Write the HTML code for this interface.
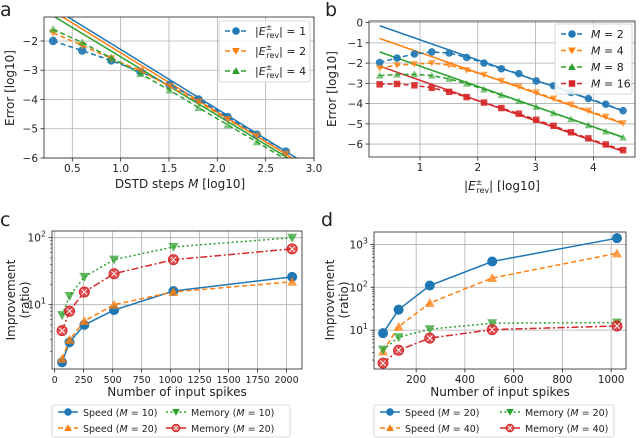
<!DOCTYPE html>
<html><head><meta charset="utf-8"><style>
body{margin:0;background:#fff;}
svg{display:block;font-family:"DejaVu Sans","Liberation Sans",sans-serif;}
</style></head><body>
<svg id="fig" width="640" height="438" viewBox="0 0 640 438"></svg>
<script>
// ---------- DATA ----------
const aX = [0.301,0.602,0.903,1.204,1.505,1.806,2.107,2.408,2.709];
const aE1 = [-2.0,-2.33,-2.67,-3.05,-3.5,-4.0,-4.6,-5.2,-5.78];
const aE2 = [-1.72,-2.15,-2.6,-3.02,-3.55,-4.08,-4.68,-5.25,-5.87];
const aE4 = [-1.6,-2.05,-2.58,-3.12,-3.68,-4.28,-4.87,-5.45,-6.05];
const aFitIntercept = [-0.25,-0.37,-0.54];
const aFitSlope = [-2.04,-2.03,-2.0];
const aXTicks = [0.5,1.0,1.5,2.0,2.5,3.0];
const aYTicks = [-2,-3,-4,-5,-6];

const bX = [0.301,0.602,0.903,1.204,1.505,1.806,2.107,2.408,2.709,3.010,3.311,3.612,3.913,4.214,4.515];
const bM2 = [-1.97,-1.75,-1.55,-1.45,-1.5,-1.72,-2.0,-2.28,-2.52,-2.88,-3.12,-3.45,-3.75,-4.03,-4.35];
const bM4 = [-2.25,-2.1,-2.05,-2.0,-2.1,-2.35,-2.58,-2.87,-3.15,-3.45,-3.75,-4.05,-4.35,-4.65,-4.97];
const bM8 = [-2.62,-2.57,-2.55,-2.62,-2.78,-3.02,-3.3,-3.58,-3.88,-4.17,-4.47,-4.77,-5.07,-5.38,-5.68];
const bM16 = [-3.05,-3.03,-3.1,-3.22,-3.42,-3.68,-3.95,-4.22,-4.5,-4.8,-5.1,-5.42,-5.72,-6.02,-6.3];
const bFitIntercept = [0.15,-0.48,-1.15,-1.85];
const bFitSlope = [-1,-1,-1,-1];
const bXTicks = [1,2,3,4];
const bYTicks = [0,-1,-2,-3,-4,-5,-6];

const cX = [64,128,256,512,1024,2048];
const cSpeed10 = [1.38,2.75,5.0,8.3,16,26];
const cSpeed20 = [1.55,3.0,5.7,10,15.5,22];
const cMem10 = [7,13.5,26,47,73,100];
const cMem20 = [4.1,8,15.5,29,47,68];
const cXTicks = [0,250,500,750,1000,1250,1500,1750,2000];

const dX = [64,128,256,512,1024];
const dSpeed20 = [8.5,30,110,400,1400];
const dSpeed40 = [3.2,12,43,165,620];
const dMem20 = [3.5,6.8,10.5,14.5,15];
const dMem40 = [1.7,3.4,6.5,10.3,12.5];
const dXTicks = [200,400,600,800,1000];

// ---------- HELPERS ----------
const NS="http://www.w3.org/2000/svg";
const svg=document.getElementById('fig');
const C={blue:'#1f77b4',orange:'#ff7f0e',green:'#2ca02c',red:'#d62728'};
function mk(tag,attrs,parent){const e=document.createElementNS(NS,tag);for(const k in attrs)e.setAttribute(k,attrs[k]);(parent||svg).appendChild(e);return e;}
function txt(x,y,s,attrs,parent){const e=mk('text',Object.assign({x:x,y:y,'font-size':10.5,fill:'#222'},attrs||{}),parent);e.innerHTML=s;return e;}
function marker(g,type,x,y,col,r){
  let e;
  if(type==='o'){e=mk('circle',{cx:x,cy:y,r:r,fill:col},g);}
  else if(type==='v'){e=mk('polygon',{points:`${x-r},${y-r*0.8} ${x+r},${y-r*0.8} ${x},${y+r}`,fill:col},g);}
  else if(type==='^'){e=mk('polygon',{points:`${x-r},${y+r*0.8} ${x+r},${y+r*0.8} ${x},${y-r}`,fill:col},g);}
  else if(type==='s'){e=mk('rect',{x:x-r*0.85,y:y-r*0.85,width:r*1.7,height:r*1.7,fill:col},g);}
  else if(type==='x'){e=mk('circle',{cx:x,cy:y,r:r,fill:col,'fill-opacity':0.8,stroke:col,'stroke-width':1},g);
    mk('path',{d:`M${x-r*0.55},${y-r*0.55}L${x+r*0.55},${y+r*0.55}M${x+r*0.55},${y-r*0.55}L${x-r*0.55},${y+r*0.55}`,stroke:'#fff','stroke-width':0.9},g);}
  return e;
}
function axesBox(L,T,R,B,name){
  const g=mk('g',{});
  
  
  return g;
}
let clipId=0;
function panel(opt){
  const {L,T,R,B}=opt;
  const g=axesBox(L,T,R,B,opt.name);
  const sx=v=>L+(v-opt.x0)/(opt.x1-opt.x0)*(R-L);
  const sy=opt.log?(v=>B-(Math.log10(v)-opt.y0)/(opt.y1-opt.y0)*(B-T)):(v=>B-(v-opt.y0)/(opt.y1-opt.y0)*(B-T));
  const cid='clip'+(clipId++);
  const cp=mk('clipPath',{id:cid},g);mk('rect',{x:L,y:T,width:R-L,height:B-T},cp);
  const xfs=opt.xfs||10.5;
  opt.xTicks.forEach(t=>{const x=sx(t);mk('line',{x1:x,x2:x,y1:T,y2:B,stroke:'#b0b0b0','stroke-width':0.8},g);
    mk('line',{x1:x,x2:x,y1:B,y2:B+3.5,stroke:'#222','stroke-width':0.8},g);
    const lt=txt(x,B+14,opt.xfmt?opt.xfmt(t):String(t),{'text-anchor':'middle','font-size':xfs},g);
    
    });
  opt.yTicks.forEach(t=>{const y=opt.log?sy(Math.pow(10,t)):sy(t);mk('line',{x1:L,x2:R,y1:y,y2:y,stroke:'#b0b0b0','stroke-width':0.8},g);
    mk('line',{x1:L-3.5,x2:L,y1:y,y2:y,stroke:'#222','stroke-width':0.8},g);
    let s=opt.log?`10<tspan dy="-5" font-size="8">${t}</tspan>`:(t<0?'\u2212'+(-t):String(t));
    const lt=txt(L-6,y+4,s,{'text-anchor':'end'},g);
    
    });
  if(opt.minor){opt.minor.forEach(v=>{const y=sy(v);if(y>T&&y<B)mk('line',{x1:L-2,x2:L,y1:y,y2:y,stroke:'#222','stroke-width':0.6},g);});}
  const plot=mk('g',{'clip-path':`url(#${cid})`},g);
  mk('rect',{x:L,y:T,width:R-L,height:B-T,fill:'none',stroke:'#222','stroke-width':0.8},g);
  return {g,plot,sx,sy};
}
function series(p,xs,ys,col,mtype,dash,r,name,alpha){
  const sg=mk('g',{},p.plot);
  
  
  const d=xs.map((x,i)=>(i?'L':'M')+p.sx(x).toFixed(1)+','+p.sy(ys[i]).toFixed(1)).join('');
  mk('path',{d:d,fill:'none',stroke:col,'stroke-width':1.5,'stroke-dasharray':dash||'none'},sg);
  xs.forEach((x,i)=>{const m=marker(sg,mtype,p.sx(x),p.sy(ys[i]),col,r);if(alpha)m.setAttribute('fill-opacity',alpha);});
}
function fitLine(p,x0,x1,b,m,col,name){
  const l=mk('line',{x1:p.sx(x0),y1:p.sy(b+m*x0),x2:p.sx(x1),y2:p.sy(b+m*x1),stroke:col,'stroke-width':1.5},p.plot);
  
  
}
function legend(x,y,w,h,entries,cols,name,o){
  o=o||{};
  const top=o.top||10, lw=o.lw||22, tx=o.tx||30;
  const g=mk('g',{});
  
  
  mk('rect',{x:x,y:y,width:w,height:h,rx:2,fill:'#fff','fill-opacity':0.85,stroke:'#ccc','stroke-width':0.8},g);
  entries.forEach((e,i)=>{
    const col=i%cols,row=Math.floor(i/cols);
    const ex=x+6+col*e.colW, ey=y+top+row*e.rowH;
    const eg=mk('g',{},g);
    
    
    mk('line',{x1:ex,x2:ex+lw,y1:ey,y2:ey,stroke:e.col,'stroke-width':1.5,'stroke-dasharray':e.dash||'none'},eg);
    marker(eg,e.m,ex+lw/2,ey,e.col,e.r||3.8);
    txt(ex+tx,ey+4,e.label,{'font-size':e.fs||11},eg);
  });
}
function axisTitleY(x,y,lines,name){
  const t=mk('text',{transform:`translate(${x},${y}) rotate(-90)`,'text-anchor':'middle','font-size':12,fill:'#222'});
  
  
  if(lines.length===1)t.innerHTML=lines[0];
  else t.innerHTML=`<tspan x="0" dy="-7">${lines[0]}</tspan><tspan x="0" dy="14">${lines[1]}</tspan>`;
}
function axisTitleX(x,y,s,name){const t=txt(x,y,s,{'text-anchor':'middle','font-size':12});
  
  }
function panelLabel(x,y,s){const t=txt(x,y,s,{'font-size':19});
  
  }
const Erev='|<tspan font-style="italic">E</tspan><tspan dy="-5" font-size="8">±</tspan><tspan dy="8" dx="-6" font-size="8">rev</tspan><tspan dy="-3">|</tspan>';

// ---------- PANEL A ----------
const pa=panel({name:'panel-a',L:44,T:17,R:314,B:158,x0:0.207,x1:3.0,y0:-6,y1:-1.18,xTicks:aXTicks,yTicks:aYTicks,xfmt:t=>t.toFixed(1)});
[C.blue,C.orange,C.green].forEach((c,i)=>fitLine(pa,0.2,3.0,aFitIntercept[i],aFitSlope[i],c,'fit-line-a-'+i));
series(pa,aX,aE1,C.blue,'o','5,3',4.2,'series-e1',0.9);
series(pa,aX,aE2,C.orange,'v','5,3',4.2,'series-e2',0.7);
series(pa,aX,aE4,C.green,'^','5,3',4.2,'series-e4',0.6);
legend(219,21,91,61,[
 {col:C.blue,m:'o',dash:'5,3',label:Erev+' = 1',colW:0,rowH:20},
 {col:C.orange,m:'v',dash:'5,3',label:Erev+' = 2',colW:0,rowH:20},
 {col:C.green,m:'^',dash:'5,3',label:Erev+' = 4',colW:0,rowH:20}],1,'legend-a');
panelLabel(0,16,'a');
axisTitleY(14,88,['Error [log10]'],'y-axis-title-a');
axisTitleX(180,188,'DSTD steps <tspan font-style="italic">M</tspan> [log10]','x-axis-title-a');

// ---------- PANEL B ----------
const pb=panel({name:'panel-b',L:369,T:21,R:635,B:157,x0:0.117,x1:4.72,y0:-6.64,y1:0.08,xTicks:bXTicks,yTicks:bYTicks});
[C.blue,C.orange,C.green,C.red].forEach((c,i)=>fitLine(pb,0.301,4.515,bFitIntercept[i],bFitSlope[i],c,'fit-line-b-'+i));
series(pb,bX,bM2,C.blue,'o','5,3',3.8,'series-m2',0.9);
series(pb,bX,bM4,C.orange,'v','5,3',3.8,'series-m4',0.7);
series(pb,bX,bM8,C.green,'^','5,3',3.8,'series-m8',0.6);
series(pb,bX,bM16,C.red,'s','5,3',3.8,'series-m16',0.9);
const Mi='<tspan font-style="italic">M</tspan>';
legend(555,24,77,70,[
 {col:C.blue,m:'o',dash:'5,3',label:Mi+' = 2',colW:0,rowH:16.5},
 {col:C.orange,m:'v',dash:'5,3',label:Mi+' = 4',colW:0,rowH:16.5},
 {col:C.green,m:'^',dash:'5,3',label:Mi+' = 8',colW:0,rowH:16.5},
 {col:C.red,m:'s',dash:'5,3',label:Mi+' = 16',colW:0,rowH:16.5}],1,'legend-b');
panelLabel(325,16,'b');
axisTitleY(336,89,['Error [log10]'],'y-axis-title-b');
axisTitleX(502,190,Erev+' [log10]','x-axis-title-b');

// ---------- PANEL C ----------
const cMinor=[2,3,4,5,6,7,8,9,20,30,40,50,60,70,80,90,200];
const pc=panel({name:'panel-c',L:52,T:231,R:302,B:369,x0:-23,x1:2133,y0:0.04,y1:2.1,log:true,xTicks:cXTicks,yTicks:[1,2],minor:cMinor,xfs:9.5});
series(pc,cX,cSpeed10,C.blue,'o','none',5,'series-speed-m10');
series(pc,cX,cSpeed20,C.orange,'^','5,3',5,'series-speed-m20',0.75);
series(pc,cX,cMem10,C.green,'v','2,2.5',5,'series-memory-m10',0.75);
series(pc,cX,cMem20,C.red,'x','7,2.5,2,2.5',5,'series-memory-m20');
panelLabel(0,226,'c');
axisTitleY(22,300,['Improvement','(ratio)'],'y-axis-title-c');
axisTitleX(177,396,'Number of input spikes','x-axis-title-c');
const LO={top:7,lw:20,tx:25};
legend(52,405,238,32,[
 {col:C.blue,m:'o',label:'Speed ('+Mi+' = 10)',colW:108,rowH:16,fs:9.5},
 {col:C.green,m:'v',dash:'2,2.5',label:'Memory ('+Mi+' = 10)',colW:108,rowH:16,fs:9.5},
 {col:C.orange,m:'^',dash:'5,3',label:'Speed ('+Mi+' = 20)',colW:108,rowH:16,fs:9.5},
 {col:C.red,m:'x',dash:'7,2.5,2,2.5',label:'Memory ('+Mi+' = 20)',colW:108,rowH:16,fs:9.5}],2,'legend-c',LO);

// ---------- PANEL D ----------
const dMinor=[2,3,4,5,6,7,8,9,20,30,40,50,60,70,80,90,200,300,400,500,600,700,800,900,2000];
const pd=panel({name:'panel-d',L:374,T:232,R:626,B:369,x0:27,x1:1061,y0:0.093,y1:3.29,log:true,xTicks:dXTicks,yTicks:[1,2,3],minor:dMinor});
series(pd,dX,dSpeed20,C.blue,'o','none',5,'series-speed-m20');
series(pd,dX,dSpeed40,C.orange,'^','5,3',5,'series-speed-m40',0.75);
series(pd,dX,dMem20,C.green,'v','2,2.5',5,'series-memory-m20',0.75);
series(pd,dX,dMem40,C.red,'x','7,2.5,2,2.5',5,'series-memory-m40');
panelLabel(321,226,'d');
axisTitleY(341,300,['Improvement','(ratio)'],'y-axis-title-d');
axisTitleX(500,396,'Number of input spikes','x-axis-title-d');
legend(374,405,240,32,[
 {col:C.blue,m:'o',label:'Speed ('+Mi+' = 20)',colW:120,rowH:16,fs:9.5},
 {col:C.green,m:'v',dash:'2,2.5',label:'Memory ('+Mi+' = 20)',colW:120,rowH:16,fs:9.5},
 {col:C.orange,m:'^',dash:'5,3',label:'Speed ('+Mi+' = 40)',colW:120,rowH:16,fs:9.5},
 {col:C.red,m:'x',dash:'7,2.5,2,2.5',label:'Memory ('+Mi+' = 40)',colW:120,rowH:16,fs:9.5}],2,'legend-d',LO);
</script>
</body></html>
